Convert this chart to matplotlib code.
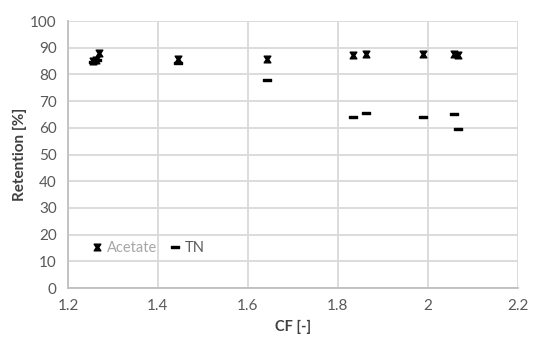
import numpy as np
import matplotlib
matplotlib.use("Agg")
import matplotlib.pyplot as plt
from matplotlib.path import Path

plt.rcParams['font.family'] = ['Lato', 'DejaVu Sans']

# Data
acetate_cf = [1.255, 1.262, 1.270, 1.445, 1.642, 1.833, 1.862, 1.989, 2.058, 2.066]
acetate_ret = [85.0, 85.5, 88.0, 85.8, 85.7, 87.3, 87.5, 87.5, 87.5, 87.3]
tn_cf = [1.255, 1.265, 1.445, 1.642, 1.833, 1.862, 1.989, 2.058, 2.066]
tn_ret = [84.5, 85.3, 84.2, 78.0, 64.2, 65.6, 64.2, 65.2, 59.6]

x_ticks = [1.2, 1.4, 1.6, 1.8, 2.0, 2.2]
x_tick_labels = ['1.2', '1.4', '1.6', '1.8', '2', '2.2']
y_ticks = list(range(0, 101, 10))

# hourglass marker for acetate
hourglass = Path([(-1, 1), (1, 1), (0.35, 0), (1, -1), (-1, -1), (-0.35, 0), (-1, 1)],
                 [Path.MOVETO] + [Path.LINETO] * 5 + [Path.CLOSEPOLY])
# short thick dash for TN
dash = Path([(-1, 0.3), (1, 0.3), (1, -0.3), (-1, -0.3), (-1, 0.3)],
            [Path.MOVETO] + [Path.LINETO] * 3 + [Path.CLOSEPOLY])

fig = plt.figure(figsize=(5.5, 3.54), dpi=100)
ax = fig.add_axes([0.1236, 0.1864, 0.818, 0.754])

ax.plot(acetate_cf, acetate_ret, linestyle='none', marker=hourglass, markersize=4.8,
        color='black', label='Acetate', zorder=3)
ax.plot(tn_cf, tn_ret, linestyle='none', marker=dash, markersize=6,
        color='black', label='TN', zorder=3)

ax.set_xlim(1.2, 2.2)
ax.set_ylim(0, 100)
ax.set_xticks(x_ticks)
ax.set_xticklabels(x_tick_labels)
ax.set_yticks(y_ticks)
ax.grid(True, color='#d9d9d9', linewidth=1.3)
ax.set_axisbelow(True)
for side in ['top', 'right']:
    ax.spines[side].set_visible(False)
for side in ['left', 'bottom']:
    ax.spines[side].set_color('#bfbfbf')
    ax.spines[side].set_linewidth(1.3)
ax.tick_params(length=0, labelsize=11, labelcolor='#595959', pad=8)

ax.set_xlabel('CF [-]', fontsize=10.5, fontweight='bold', color='#404040', labelpad=5)
ax.set_ylabel('Retention [%]', fontsize=11, fontweight='bold', color='#404040', labelpad=2)

leg = ax.legend(loc='lower left', bbox_to_anchor=(0.025, 0.075), ncol=2, frameon=False,
                handlelength=0.6, handletextpad=0.4, columnspacing=0.9, fontsize=10.5)
leg.get_texts()[0].set_color('#a6a6a6')
leg.get_texts()[1].set_color('#595959')

fig.savefig('out.png', dpi=100)
